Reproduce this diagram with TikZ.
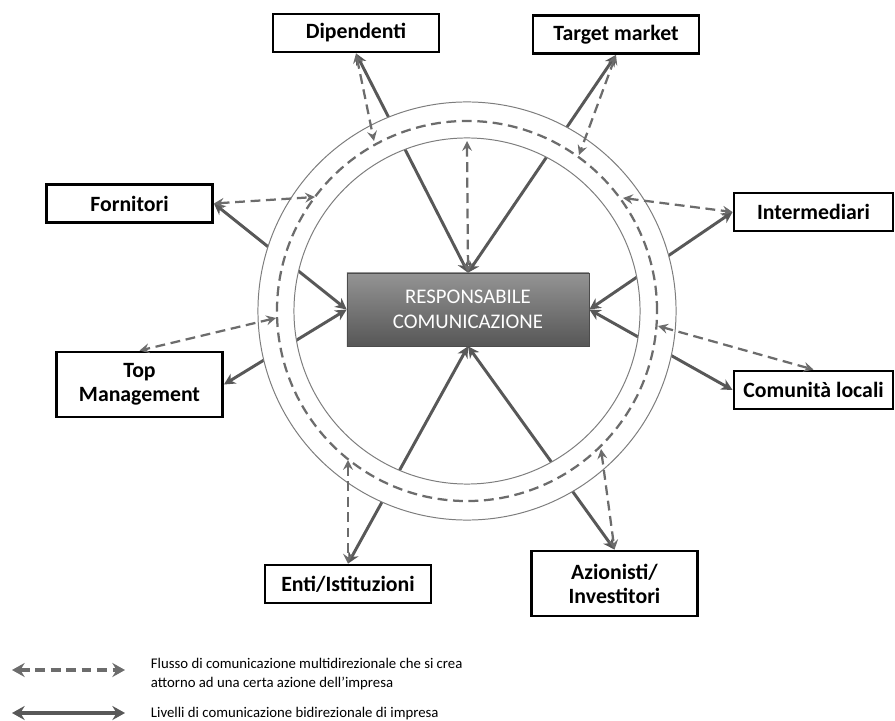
\documentclass[tikz,border=0pt]{standalone}
\usepackage{fontspec}
\setmainfont{Carlito}
\usepackage{tikz}
\usetikzlibrary{arrows.meta,calc}
\definecolor{linkcolor}{RGB}{88, 88, 88}
\definecolor{flowcolor}{RGB}{108, 108, 108}
\definecolor{ringcolor}{RGB}{125, 125, 125}

\begin{document}
\begin{tikzpicture}[
    x=0.025cm, y=-0.025cm,
    party/.style={rectangle, draw, line width=2pt, fill=white, minimum width=4.15cm, minimum height=0.95cm, align=center, inner sep=2pt, font=\fontsize{15.5}{17}\selectfont\bfseries},
    link/.style={<->, line width=2.1pt, linkcolor, >={Stealth[length=8pt, width=8pt, inset=2.5pt]}},
    flow/.style={<->, line width=1.6pt, flowcolor, dash pattern=on 7pt off 4pt, >={Stealth[length=7pt, width=7pt, inset=2.5pt]}}
]
    \useasboundingbox (0,0) rectangle (895,721);

    % Centre
    \node[rectangle, draw=black!70, top color=black!42, bottom color=black!66, minimum width=6.05cm, minimum height=1.825cm, text=white, align=center, font=\fontsize{14.8}{18}\selectfont] (resp) at (468,309.5) {RESPONSABILE\\COMUNICAZIONE};
    \coordinate (hub) at (467,311);

    % Stakeholders
    \node[party] (dip) at (356,33) {Dipendenti};
    \node[party] (tar) at (616,34.5) {Target market};
    \node[party] (forn) at (129.5,203.5) {Fornitori};
    \node[party, minimum width=3.975cm] (inter) at (813.5,212) {Intermediari};
    \node[party, minimum height=1.625cm] (topm) at (139.5,384.5) {Top\\Management};
    \node[party, minimum width=3.975cm] (com) at (813.5,390) {Comunità locali};
    \node[party] (enti) at (348,584) {Enti/Istituzioni};
    \node[party, minimum height=1.625cm] (azi) at (614.5,583.5) {Azionisti/\\Investitori};

    % Two-way links
    \draw[link] (dip.south) -- (resp.north);
    \draw[link] (tar.south) -- (resp.north);
    \draw[link] (forn.east) -- (resp.west);
    \draw[link] (topm.east) -- (resp.west);
    \draw[link] (inter.west) -- (resp.east);
    \draw[link] (com.west) -- (resp.east);
    \draw[link] (enti.north) -- (resp.south);
    \draw[link] (azi.north) -- (resp.south);

    % Ring
    \fill[white, even odd rule] (hub) circle (5.225cm) (hub) circle (4.325cm);
    \draw[ringcolor, line width=0.7pt] (hub) circle (5.225cm);
    \draw[ringcolor, line width=0.7pt] (hub) circle (4.325cm);
    \draw[flowcolor, line width=1.6pt, dash pattern=on 7pt off 4pt] (hub) circle (4.75cm);

    % Flow points on the ring
    \coordinate (fdip) at (374,141);
    \coordinate (ftar) at (579,155);
    \coordinate (fint) at (623,198);
    \coordinate (ffor) at (315,197);
    \coordinate (ftop) at (276,318);
    \coordinate (fcom) at (658,326);
    \coordinate (fent) at (348,460);
    \coordinate (fazi) at (601,449);
    \coordinate (fmid) at (467,141);

    % Multi-way flows
    \draw[flow] (dip.south) -- (fdip);
    \draw[flow] (tar.south) -- (ftar);
    \draw[flow] (fint) -- (inter.west);
    \draw[flow] (forn.east) -- (ffor);
    \draw[flow] (ftop) -- (topm.north);
    \draw[flow] (fcom) -- (com.north);
    \draw[flow] (fent) -- (enti.north);
    \draw[flow] (fazi) -- (azi.north);
    \draw[flow] (fmid) -- (resp.north);

    % Legend
    \coordinate (keya) at (12,670);
    \coordinate (keyb) at (125,670);
    \coordinate (keyc) at (12,713);
    \coordinate (keyd) at (125,713);
    \draw[flow, line width=2.6pt, >={Stealth[length=9pt, width=10pt, inset=3pt]}] (keya) -- (keyb);
    \draw[link, line width=2.8pt, >={Stealth[length=9pt, width=10pt, inset=3pt]}] (keyc) -- (keyd);
    \node[anchor=west, align=left, font=\fontsize{10.5}{13}\selectfont] (keyflow) at (146,674) {Flusso di comunicazione multidirezionale che si crea\\attorno ad una certa azione dell’impresa};
    \node[anchor=west, font=\fontsize{10.5}{13}\selectfont] (keylink) at (146,714) {Livelli di comunicazione bidirezionale di impresa};
\end{tikzpicture}
\end{document}
